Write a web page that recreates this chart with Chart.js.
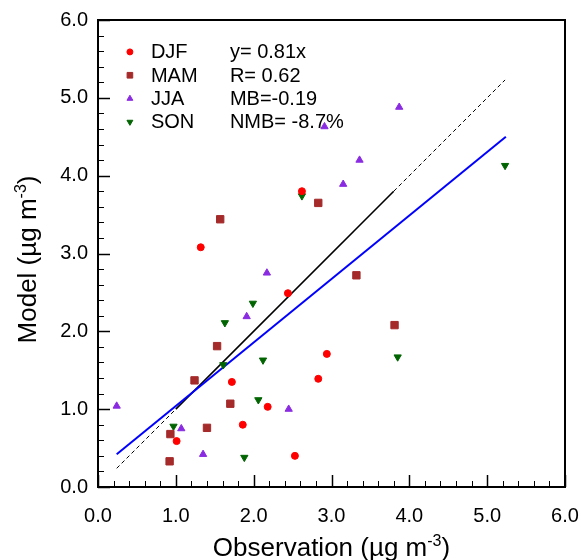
<!DOCTYPE html>
<html>
<head>
<meta charset="utf-8">
<script src="https://cdn.jsdelivr.net/npm/chart.js@4/dist/chart.umd.min.js"></script>
<style>
  html, body { margin: 0; padding: 0; background: #fff; }
  #wrap { width: 581px; height: 560px; }
</style>
</head>
<body>
<div id="wrap"><canvas id="c" width="581" height="560"></canvas></div>
<script>
// ---- data ----
const seasons = ["DJF", "MAM", "JJA", "SON"];
const djfObs = [1.32, 2.62, 2.44, 1.72, 2.18, 1.01, 2.94, 2.83, 1.86, 2.53];
const djfMod = [3.08, 3.80, 2.49, 1.35, 1.03, 0.59, 1.71, 1.39, 0.80, 0.40];
const mamObs = [1.57, 2.83, 1.53, 1.24, 1.70, 1.40, 0.93, 0.92, 3.32, 3.81];
const mamMod = [3.44, 3.65, 1.81, 1.37, 1.07, 0.76, 0.68, 0.33, 2.72, 2.08];
const jjaObs = [0.24, 1.07, 1.35, 2.45, 2.17, 1.91, 3.15, 3.87, 2.91, 3.36];
const jjaMod = [1.04, 0.75, 0.42, 1.00, 2.75, 2.19, 3.89, 4.88, 4.63, 4.20];
const sonObs = [2.62, 1.99, 1.63, 2.12, 1.61, 2.06, 0.97, 1.88, 5.23, 3.85];
const sonMod = [3.74, 2.36, 2.11, 1.63, 1.57, 1.12, 0.78, 0.38, 4.13, 1.67];
const fitX = [0.24, 5.24];
const fitY = [0.42, 4.50];
const oneX = [0.24, 5.23];
const oneSolidX = [1.0, 3.8];
const stats = ["y= 0.81x", "R= 0.62", "MB=-0.19", "NMB= -8.7%"];
const tickValues = [0, 1, 2, 3, 4, 5, 6];
const axisMin = 0, axisMax = 6, minorStep = 0.2;

const pts = (xs, ys) => xs.map((x, i) => ({ x: x, y: ys[i] }));

const styles = {
  DJF: { color: "#ff0000", style: "circle", rot: 0, r: 3.5, lr: 3 },
  MAM: { color: "#a52a2a", style: "rect", rot: 0, r: 5.2, lr: 4 },
  JJA: { color: "#8a2be2", style: "triangle", rot: 0, r: 4.2, lr: 3.4 },
  SON: { color: "#006400", style: "triangle", rot: 180, r: 4.2, lr: 3.4 }
};
const seriesData = { DJF: pts(djfObs, djfMod), MAM: pts(mamObs, mamMod), JJA: pts(jjaObs, jjaMod), SON: pts(sonObs, sonMod) };

const FONT = "'Liberation Sans', Arial, Helvetica, sans-serif";

const datasets = [
  { type: "line", data: pts(oneX, oneX), borderColor: "#000", borderWidth: 1, borderDash: [4, 3], pointRadius: 0, fill: false, order: 5 },
  { type: "line", data: pts(oneSolidX, oneSolidX), borderColor: "#000", borderWidth: 1.6, pointRadius: 0, fill: false, order: 5 },
  { type: "line", data: pts(fitX, fitY), borderColor: "#0000ff", borderWidth: 2, pointRadius: 0, fill: false, order: 4 }
];
seasons.forEach(s => {
  const st = styles[s];
  datasets.push({
    type: "scatter", label: s, data: seriesData[s],
    pointStyle: st.style, rotation: st.rot, pointRadius: st.r,
    backgroundColor: st.color, borderColor: st.color, borderWidth: 1, order: 1
  });
});

const framePlugin = {
  id: "frame",
  afterDatasetsDraw(chart) {
    const ctx = chart.ctx, a = chart.chartArea;
    const xs = chart.scales.x, ys = chart.scales.y;
    ctx.save();
    // ticks (inward)
    ctx.strokeStyle = "#000";
    const n = Math.round((axisMax - axisMin) / minorStep);
    for (let i = 0; i <= n; i++) {
      const v = axisMin + i * minorStep;
      const major = (i % 5) === 0;
      const len = major ? 12 : 6;
      ctx.lineWidth = major ? 1.5 : 1;
      const px = Math.round(xs.getPixelForValue(v)) + 0.5;
      ctx.beginPath(); ctx.moveTo(px, a.bottom); ctx.lineTo(px, a.bottom - len); ctx.stroke();
      const py = Math.round(ys.getPixelForValue(v)) + 0.5;
      ctx.beginPath(); ctx.moveTo(a.left, py); ctx.lineTo(a.left + len, py); ctx.stroke();
    }
    // frame
    ctx.lineWidth = 2;
    ctx.strokeStyle = "#000";
    ctx.strokeRect(a.left, a.top, a.right - a.left, a.bottom - a.top);

    // legend
    const lx = xs.getPixelForValue(0.41);
    const rows = [0, 1, 2, 3].map(i => ys.getPixelForValue(5.59 - i * 0.30));
    ctx.textBaseline = "middle";
    seasons.forEach((s, i) => {
      const st = styles[s];
      const y = rows[i];
      ctx.fillStyle = st.color; ctx.strokeStyle = st.color; ctx.lineWidth = 1;
      Chart.helpers.drawPoint(ctx, { pointStyle: st.style, rotation: st.rot, radius: st.lr, borderWidth: 1 }, lx, y);
      ctx.fillStyle = "#000";
      ctx.textAlign = "left";
      ctx.font = "20px " + FONT;
      ctx.fillText(s, lx + 21, y + 1);
      ctx.fillText(stats[i], lx + 100, y + 1);
    });

    // axis titles with superscript
    const drawTitle = (parts, cx, cy, rotate) => {
      ctx.save();
      ctx.translate(cx, cy);
      if (rotate) ctx.rotate(-Math.PI / 2);
      const big = "26px " + FONT, small = "16px " + FONT;
      let w = 0;
      parts.forEach(p => { ctx.font = p.sup ? small : big; w += ctx.measureText(p.t).width; });
      let x = -w / 2;
      ctx.textAlign = "left";
      ctx.textBaseline = "alphabetic";
      ctx.fillStyle = "#000";
      parts.forEach(p => {
        ctx.font = p.sup ? small : big;
        ctx.fillText(p.t, x, p.sup ? -10 : 0);
        x += ctx.measureText(p.t).width;
      });
      ctx.restore();
    };
    const cxm = (a.left + a.right) / 2, cym = (a.top + a.bottom) / 2;
    drawTitle([{ t: "Observation (µg m" }, { t: "-3", sup: true }, { t: ")" }], cxm, 556, false);
    drawTitle([{ t: "Model (µg m" }, { t: "-3", sup: true }, { t: ")" }], 36, cym + 6, true);
    ctx.restore();
  }
};

new Chart(document.getElementById("c"), {
  data: { datasets: datasets },
  options: {
    responsive: false,
    animation: false,
    layout: { padding: { top: 20, right: 16, left: 0, bottom: 0 } },
    plugins: { legend: { display: false }, tooltip: { enabled: false } },
    scales: {
      x: {
        type: "linear", min: axisMin, max: axisMax,
        afterFit(scale) { scale.height = 73; scale.paddingLeft = 0; scale.paddingRight = 0; },
        afterBuildTicks(scale) { scale.ticks = tickValues.map(v => ({ value: v })); },
        grid: { display: false, drawTicks: false },
        border: { display: false },
        ticks: { padding: 17, color: "#000", font: { family: FONT, size: 20 }, callback: v => Number(v).toFixed(1), maxRotation: 0 }
      },
      y: {
        type: "linear", min: axisMin, max: axisMax,
        afterFit(scale) { scale.width = 98; scale.paddingTop = 0; scale.paddingBottom = 0; },
        afterBuildTicks(scale) { scale.ticks = tickValues.map(v => ({ value: v })); },
        grid: { display: false, drawTicks: false },
        border: { display: false },
        ticks: { padding: 10, color: "#000", font: { family: FONT, size: 20 }, callback: v => Number(v).toFixed(1) }
      }
    }
  },
  plugins: [framePlugin]
});
</script>
</body>
</html>
